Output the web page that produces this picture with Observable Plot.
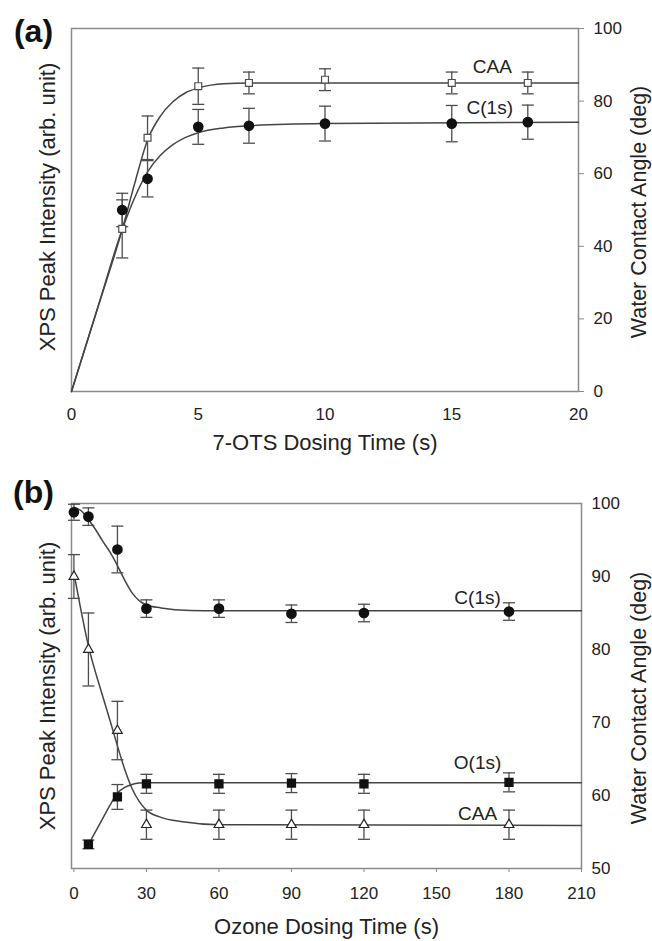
<!DOCTYPE html>
<html><head><meta charset="utf-8">
<script src="https://cdn.jsdelivr.net/npm/d3@7"></script>
<script src="https://cdn.jsdelivr.net/npm/@observablehq/plot@0.6"></script>
<style>
body{margin:0;background:#fff;}
#chart{position:relative;width:652px;height:941px;background:#fff;overflow:hidden;}
#chart svg{position:absolute;left:0;}
</style></head><body><div id="chart"></div>
<script>
// ---------- Panel (a): 7-OTS dosing ----------
const timeA = [2, 3, 5, 7, 10, 15, 18];
const caaA = [44.8, 69.9, 84.1, 85.0, 85.9, 85.0, 85.0];
const caaErrA = [8, 6, 5, 3, 3, 3, 3];
const c1sA = [50.0, 58.6, 72.9, 73.2, 73.8, 73.8, 74.2];
const c1sErrA = [4.6, 5, 4.8, 4.8, 4.8, 5, 4.7];
// fitted curves
const caaFitAx = [0, 1, 2, 2.5, 3, 3.5, 4, 4.5, 5, 5.5, 6, 7, 10, 20];
const caaFitAy = [0, 22.3, 44.6, 57.5, 69.3, 75.8, 79.8, 82.3, 83.6, 84.4, 84.8, 85, 85, 85];
const c1sFitAx = [0, 1, 2, 2.5, 3, 3.5, 4, 4.5, 5, 6, 7, 10, 20];
const c1sFitAy = [0, 22.3, 44.6, 53.5, 60.5, 65, 68, 70, 71.3, 72.6, 73.2, 73.8, 74.2];
const ticksAx = [0, 5, 10, 15, 20];
const ticksAy = [0, 20, 40, 60, 80, 100];

// ---------- Panel (b): Ozone dosing ----------
const timeB = [0, 6, 18, 30, 60, 90, 120, 180];
const c1sB = [98.8, 98.2, 93.7, 85.6, 85.6, 84.9, 85.0, 85.2];
const c1sErrB = [1.1, 1.2, 3.2, 1.2, 1.2, 1.2, 1.2, 1.2];
const caaB = [90.0, 80.0, 68.9, 56.0, 56.0, 56.0, 56.0, 56.0];
const caaErrB = [3, 5, 4, 2, 2, 2, 2, 2];
const timeO = [6, 18, 30, 60, 90, 120, 180];
const o1sB = [53.3, 59.8, 61.6, 61.6, 61.7, 61.6, 61.8];
const o1sErrB = [0.6, 1.7, 1.3, 1.3, 1.3, 1.3, 1.3];
const c1sFitBx = [0, 3, 6, 9, 12, 15, 18, 21, 24, 27, 30, 36, 48, 60, 210];
const c1sFitBy = [99.5, 99, 97.8, 96.4, 94.8, 93.3, 91.5, 89.5, 87.8, 86.7, 86.1, 85.7, 85.35, 85.3, 85.3];
const o1sFitBx = [6, 9, 12, 15, 18, 21, 24, 27, 30, 210];
const o1sFitBy = [53.3, 55.1, 56.9, 58.7, 60.3, 61.1, 61.5, 61.7, 61.75, 61.75];
const caaFitBx = [0, 6, 12, 15, 18, 21, 24, 27, 30, 36, 45, 60, 210];
const caaFitBy = [90.5, 80.5, 73.5, 70.2, 66.8, 63.6, 61, 59.2, 58, 57, 56.4, 56, 55.9];
const ticksBx = [0, 30, 60, 90, 120, 150, 180, 210];
const ticksBy = [50, 60, 70, 80, 90, 100];

const zip = (xs, ys, es) => xs.map((x, i) => ({x, y: ys[i], e: es ? es[i] : 0}));

const font = "'Liberation Sans', Arial, Helvetica, sans-serif";
const ink = "#4d4d4d";
const frameGray = "#8a8a8a";
const cap = {draw(ctx, size) { const r = Math.sqrt(size / Math.PI); ctx.moveTo(-r, 0); ctx.lineTo(r, 0); }};

function errMarks(rows) {
  return [
    Plot.ruleX(rows, {x: "x", y1: d => d.y - d.e, y2: d => d.y + d.e, stroke: ink, strokeWidth: 1.3}),
    Plot.dot(rows, {x: "x", y: d => d.y - d.e, symbol: cap, r: 6, stroke: ink, strokeWidth: 1.3, fill: "none"}),
    Plot.dot(rows, {x: "x", y: d => d.y + d.e, symbol: cap, r: 6, stroke: ink, strokeWidth: 1.3, fill: "none"})
  ];
}
const fitLine = (rows) => Plot.line(rows, {x: "x", y: "y", curve: "monotone-x", stroke: "#444", strokeWidth: 1.5});
const lbl = (arr) => Plot.text(arr, {x: "x", y: "y", text: "t", fontSize: 19, fill: "#222", textAnchor: "middle"});
const note = (s, o) => Plot.text([s], {text: d => d, fill: "#222", textAnchor: "middle", lineAnchor: "middle", fontSize: 22, ...o});

const style = {fontFamily: font, fontSize: "17px", color: "#222", background: "white", overflow: "visible"};

// ---------- build panel (a) ----------
const caaRowsA = zip(timeA, caaA, caaErrA);
const c1sRowsA = zip(timeA, c1sA, c1sErrA);
const plotA = Plot.plot({
  width: 652, height: 470,
  marginLeft: 71, marginRight: 74, marginTop: 28, marginBottom: 79,
  style,
  x: {domain: [0, 20], label: null},
  y: {domain: [0, 100], label: null},
  marks: [
    Plot.frame({stroke: frameGray, strokeWidth: 1.5}),
    Plot.axisX({ticks: ticksAx, tickSize: 0, tickPadding: 16, label: null, fontSize: 17}),
    Plot.axisY({anchor: "right", ticks: ticksAy, tickSize: 5, tickPadding: 10, label: null, fontSize: 17, stroke: frameGray}),
    fitLine(zip(caaFitAx, caaFitAy)),
    fitLine(zip(c1sFitAx, c1sFitAy)),
    ...errMarks(caaRowsA),
    ...errMarks(c1sRowsA),
    Plot.dot(c1sRowsA, {x: "x", y: "y", r: 4.6, fill: "#111", stroke: "#111"}),
    Plot.dot(caaRowsA, {x: "x", y: "y", symbol: "square", r: 3.9, fill: "white", stroke: ink, strokeWidth: 1.2}),
    lbl([{x: 16.6, y: 89.3, t: "CAA"}, {x: 16.5, y: 78.2, t: "C(1s)"}]),
    note("(a)", {frameAnchor: "top-left", dx: -38, dy: 3, fontSize: 32, fontWeight: "bold", fill: "#111"}),
    note("XPS Peak Intensity (arb. unit)", {frameAnchor: "left", dx: -24, dy: -3, rotate: -90}),
    note("Water Contact Angle (deg)", {frameAnchor: "right", dx: 61, dy: 2, rotate: -90, fontSize: 21.5}),
    note("7-OTS Dosing Time (s)", {frameAnchor: "bottom", dy: 51})
  ]
});
plotA.style.top = "0px";

// ---------- build panel (b) ----------
const c1sRowsB = zip(timeB, c1sB, c1sErrB);
const caaRowsB = zip(timeB, caaB, caaErrB);
const o1sRowsB = zip(timeO, o1sB, o1sErrB);
const plotB = Plot.plot({
  width: 652, height: 471,
  marginLeft: 71, marginRight: 71, marginTop: 33, marginBottom: 73,
  style,
  x: {domain: [-1, 210], label: null},
  y: {domain: [50, 100], label: null},
  marks: [
    Plot.frame({stroke: frameGray, strokeWidth: 1.5}),
    Plot.axisX({ticks: ticksBx, tickSize: 4, tickPadding: 14, label: null, fontSize: 17, stroke: frameGray}),
    Plot.axisY({anchor: "right", ticks: ticksBy, tickSize: 0, tickPadding: 10, label: null, fontSize: 17}),
    fitLine(zip(c1sFitBx, c1sFitBy)),
    fitLine(zip(o1sFitBx, o1sFitBy)),
    fitLine(zip(caaFitBx, caaFitBy)),
    ...errMarks(c1sRowsB),
    ...errMarks(o1sRowsB),
    ...errMarks(caaRowsB),
    Plot.dot(c1sRowsB, {x: "x", y: "y", r: 4.6, fill: "#111", stroke: "#111"}),
    Plot.dot(o1sRowsB, {x: "x", y: "y", symbol: "square", r: 4.4, fill: "#111", stroke: "#111"}),
    Plot.dot(caaRowsB, {x: "x", y: "y", symbol: "triangle", r: 3.6, fill: "white", stroke: "#222", strokeWidth: 1.2}),
    lbl([{x: 167, y: 87.1, t: "C(1s)"}, {x: 167, y: 64.4, t: "O(1s)"}, {x: 167, y: 57.5, t: "CAA"}]),
    note("(b)", {frameAnchor: "top-left", dx: -38, dy: -11, fontSize: 32, fontWeight: "bold", fill: "#111"}),
    note("XPS Peak Intensity (arb. unit)", {frameAnchor: "left", dx: -24, dy: 0, rotate: -90}),
    note("Water Contact Angle (deg)", {frameAnchor: "right", dx: 58, dy: 12, rotate: -90, fontSize: 21.5}),
    note("Ozone Dosing Time (s)", {frameAnchor: "bottom", dy: 58})
  ]
});
plotB.style.top = "470px";

const chart = document.getElementById("chart");
chart.appendChild(plotA);
chart.appendChild(plotB);
</script>
</body></html>
